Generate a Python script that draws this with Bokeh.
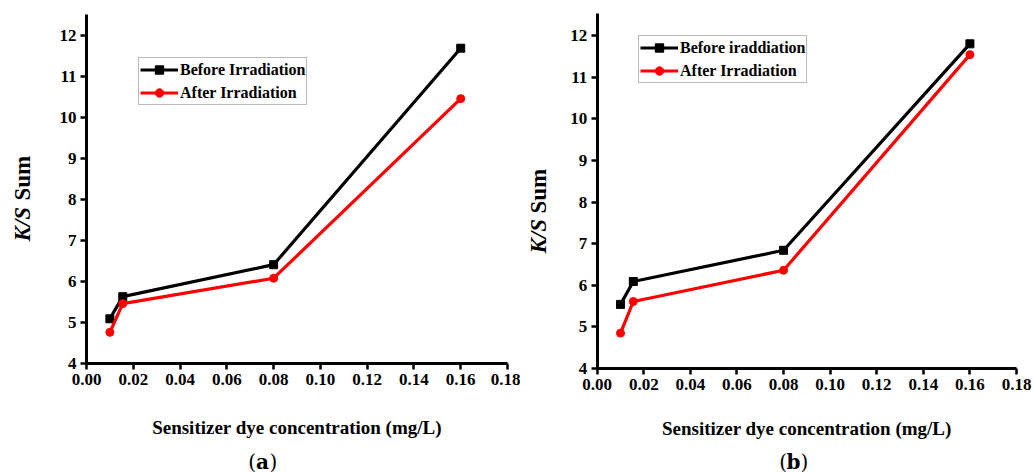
import math
from bokeh.plotting import figure
from bokeh.layouts import row
from bokeh.models import FixedTicker, NumeralTickFormatter, Label, Range1d
from bokeh.embed import file_html
from bokeh.resources import INLINE

# ---- data ----
conc = [0.01, 0.0155, 0.08, 0.16]
a_before = [5.09, 5.63, 6.41, 11.69]
a_after = [4.76, 5.46, 6.08, 10.46]
b_before = [5.54, 6.09, 6.84, 11.80]
b_after = [4.85, 5.61, 6.36, 11.54]
x_ticks = [0.00, 0.02, 0.04, 0.06, 0.08, 0.10, 0.12, 0.14, 0.16, 0.18]
y_ticks = [4, 5, 6, 7, 8, 9, 10, 11, 12]
a_labels = ["Before Irradiation", "After Irradiation"]
b_labels = ["Before iraddiation", "After Irradiation"]
x_title = "Sensitizer dye concentration (mg/L)"

FONT = "Liberation Serif"
H = 472
XMIN, XMAX = 0.0, 0.18
YMIN, YMAX = 4, 12


def panel(before, after, labels, letter, W, ax_x, ax_right, ax_y, y12, ax_top,
          leg_loc, ylab_x, ks_y, sum_y, cap_x, cap_y, xt_y):
    # pixel geometry (canvas coords, y from top) -> ranges so that the frame fills the canvas
    kx = (ax_right - ax_x) / (XMAX - XMIN)
    ky = (ax_y - y12) / (YMAX - YMIN)
    x0 = XMIN - ax_x / kx
    x1 = XMAX + (W - ax_right) / kx
    y0 = YMIN - (H - ax_y) / ky
    y1 = YMAX + y12 / ky
    ytop = YMAX + (y12 - ax_top) / ky

    p = figure(width=W, height=H, min_border=0,
               x_range=Range1d(x0, x1), y_range=Range1d(y0, y1),
               output_backend="svg", toolbar_location=None)
    p.title.visible = False
    p.outline_line_color = None
    p.grid.visible = False
    p.background_fill_color = "white"
    p.border_fill_color = "white"

    for ax in (p.xaxis[0], p.yaxis[0]):
        ax.axis_line_width = 3
        ax.axis_line_color = "black"
        ax.major_tick_line_width = 2.5
        ax.major_tick_line_color = "black"
        ax.major_tick_out = 6
        ax.major_tick_in = 0
        ax.minor_tick_line_color = None
        ax.major_label_text_font = FONT
        ax.major_label_text_font_style = "bold"
        ax.major_label_text_font_size = "17px"
        ax.major_label_text_color = "black"
        ax.major_label_standoff = 4

    p.xaxis.fixed_location = YMIN
    p.yaxis.fixed_location = XMIN
    p.xaxis.bounds = (XMIN, XMAX)
    p.yaxis.bounds = (YMIN, ytop)
    p.xaxis.ticker = FixedTicker(ticks=x_ticks)
    p.xaxis.formatter = NumeralTickFormatter(format="0.00")
    p.yaxis.ticker = FixedTicker(ticks=y_ticks)

    p.line(conc, before, line_color="black", line_width=3.2, legend_label=labels[0])
    p.scatter(conc, before, marker="square", size=8, color="black", legend_label=labels[0])
    p.line(conc, after, line_color="red", line_width=3.2, legend_label=labels[1])
    p.scatter(conc, after, marker="circle", size=8, color="red", legend_label=labels[1])

    lg = p.legend[0]
    lg.location = leg_loc
    lg.label_text_font = FONT
    lg.label_text_font_style = "bold"
    lg.label_text_font_size = "16px"
    lg.label_text_color = "black"
    lg.border_line_color = "#777777"
    lg.border_line_width = 1.5
    lg.glyph_width = 38
    lg.glyph_height = 21
    lg.label_height = 21
    lg.padding = 1
    lg.spacing = 2
    lg.margin = 0
    lg.label_standoff = 2

    def lab(x, y, text, **kw):
        opts = dict(x=x, y=H - y, x_units="screen", y_units="screen", text=text,
                    text_font=FONT, text_color="black", text_baseline="middle")
        opts.update(kw)
        p.add_layout(Label(**opts))

    # x axis title
    lab((ax_x + ax_right) / 2, xt_y, x_title, text_align="center",
        text_font_style="bold", text_font_size="19px")
    # y axis title: italic K/S + upright bold Sum
    lab(ylab_x, ks_y, "K/S", angle=math.pi / 2, text_align="left",
        text_font_style="bold italic", text_font_size="23px")
    lab(ylab_x, sum_y, "Sum", angle=math.pi / 2, text_align="left",
        text_font_style="bold", text_font_size="23px")
    # caption
    cf = "DejaVu Serif"
    lab(cap_x, cap_y, letter, text_align="center", text_font=cf,
        text_font_style="bold", text_font_size="20px")
    lab(cap_x - 6.5, cap_y, "(", text_align="right", text_font=cf, text_font_size="20px")
    lab(cap_x + 7, cap_y, ")", text_align="left", text_font=cf, text_font_size="20px")
    return p


pa = panel(a_before, a_after, a_labels, "a", W=520, ax_x=86, ax_right=507, ax_y=363,
           y12=35, ax_top=14, leg_loc=(138, 367), ylab_x=22, ks_y=241, sum_y=200,
           cap_x=262, cap_y=461, xt_y=427)
pb = panel(b_before, b_after, b_labels, "b", W=513, ax_x=76.7, ax_right=496, ax_y=368,
           y12=35, ax_top=13, leg_loc=(118, 389), ylab_x=18, ks_y=253, sum_y=213,
           cap_x=273, cap_y=461, xt_y=428)

layout = row(pa, pb, spacing=0)
open("out.html", "w").write(file_html(layout, INLINE))
